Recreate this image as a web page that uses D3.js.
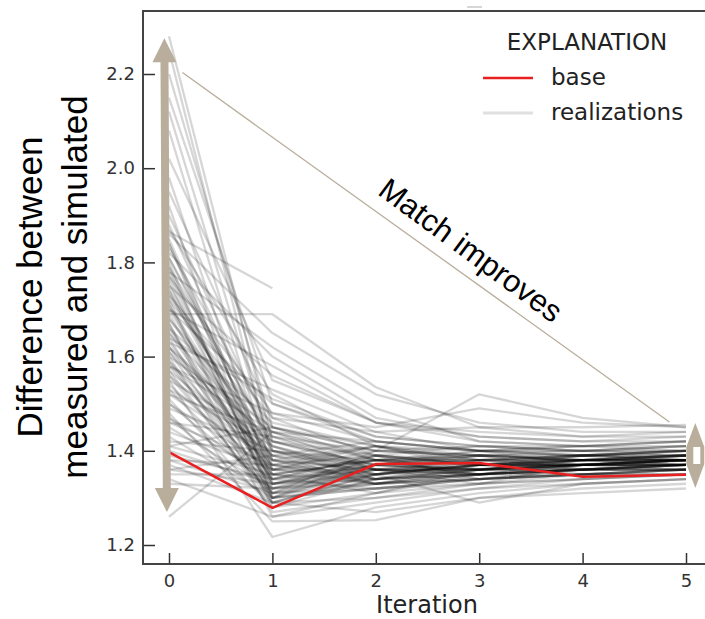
<!DOCTYPE html>
<html>
<head>
<meta charset="utf-8">
<script src="https://cdn.jsdelivr.net/npm/d3@7"></script>
<style>
  body { margin: 0; background: #fff; }
  svg { display: block; }
</style>
</head>
<body>
<script>
// --- data ---
const iterations = [0, 1, 2, 3, 4, 5];
const xTicks = [0, 1, 2, 3, 4, 5];
const yTicks = [1.2, 1.4, 1.6, 1.8, 2.0, 2.2];

const baseValues = [1.397, 1.279, 1.372, 1.374, 1.345, 1.349];

// one row per realization, values at iterations 0..5 (null = not run)
const realizations = [
    [2.28, 1.42, 1.36, 1.38, 1.37, 1.38],
    [2.25, 1.38, 1.34, 1.35, 1.36, 1.36],
    [2.20, 1.45, 1.40, 1.39, 1.38, 1.39],
    [2.15, 1.50, 1.42, 1.40, 1.40, 1.41],
    [2.12, 1.40, 1.37, 1.36, 1.37, 1.37],
    [2.08, 1.36, 1.33, 1.34, 1.35, 1.35],
    [2.02, 1.55, 1.46, 1.42, 1.41, 1.40],
    [1.98, 1.33, 1.35, 1.36, 1.37, 1.38],
    [1.95, 1.47, 1.39, 1.37, 1.38, 1.38],
    [1.92, 1.30, 1.32, 1.34, 1.35, 1.36],
    [1.90, 1.43, 1.38, 1.40, 1.39, 1.40],
    [1.88, 1.40, 1.35, 1.37, 1.36, 1.37],
    [1.87, 1.52, 1.41, 1.38, 1.39, 1.39],
    [1.865, 1.745, null, null, null, null],
    [1.85, 1.35, 1.38, 1.36, 1.37, 1.38],
    [1.84, 1.32, 1.33, 1.35, 1.36, 1.36],
    [1.83, 1.45, 1.40, 1.41, 1.40, 1.40],
    [1.82, 1.60, 1.47, 1.43, 1.42, 1.42],
    [1.81, 1.38, 1.36, 1.35, 1.37, 1.37],
    [1.80, 1.29, 1.34, 1.36, 1.36, 1.37],
    [1.79, 1.42, 1.37, 1.39, 1.38, 1.39],
    [1.78, 1.34, 1.32, 1.34, 1.35, 1.36],
    [1.77, 1.48, 1.42, 1.40, 1.41, 1.41],
    [1.76, 1.31, 1.35, 1.37, 1.38, 1.38],
    [1.75, 1.37, 1.39, 1.38, 1.39, 1.40],
    [1.75, 1.56, 1.46, 1.44, 1.43, 1.43],
    [1.74, 1.33, 1.37, 1.36, 1.37, 1.38],
    [1.73, 1.40, 1.34, 1.35, 1.36, 1.37],
    [1.72, 1.28, 1.31, 1.33, 1.34, 1.35],
    [1.72, 1.44, 1.38, 1.37, 1.38, 1.38],
    [1.71, 1.36, 1.40, 1.39, 1.40, 1.39],
    [1.70, 1.50, 1.43, 1.41, 1.40, 1.41],
    [1.69, 1.69, 1.535, 1.45, 1.43, 1.44],
    [1.69, 1.32, 1.36, 1.35, 1.36, 1.37],
    [1.68, 1.39, 1.35, 1.37, 1.37, 1.38],
    [1.67, 1.30, 1.33, 1.34, 1.35, 1.35],
    [1.66, 1.46, 1.41, 1.39, 1.39, 1.40],
    [1.66, 1.35, 1.38, 1.38, 1.38, 1.38],
    [1.65, 1.41, 1.36, 1.36, 1.37, 1.37],
    [1.64, 1.29, 1.35, 1.37, 1.38, 1.39],
    [1.63, 1.37, 1.34, 1.35, 1.36, 1.36],
    [1.63, 1.53, 1.44, 1.40, 1.41, 1.42],
    [1.62, 1.34, 1.39, 1.41, 1.40, 1.40],
    [1.62, 1.42, 1.37, 1.36, 1.38, 1.38],
    [1.61, 1.31, 1.32, 1.34, 1.35, 1.36],
    [1.61, 1.38, 1.41, 1.38, 1.39, 1.39],
    [1.60, 1.27, 1.30, 1.32, 1.34, 1.35],
    [1.60, 1.45, 1.38, 1.39, 1.39, 1.40],
    [1.59, 1.36, 1.36, 1.37, 1.37, 1.37],
    [1.58, 1.33, 1.34, 1.36, 1.37, 1.38],
    [1.58, 1.48, 1.45, 1.49, 1.46, 1.45],
    [1.57, 1.39, 1.37, 1.35, 1.36, 1.36],
    [1.56, 1.30, 1.36, 1.38, 1.38, 1.39],
    [1.55, 1.217, 1.28, 1.31, 1.33, 1.34],
    [1.55, 1.42, 1.39, 1.37, 1.38, 1.38],
    [1.54, 1.35, 1.33, 1.35, 1.36, 1.37],
    [1.53, 1.31, 1.40, 1.52, 1.47, 1.45],
    [1.52, 1.38, 1.36, 1.36, 1.37, 1.37],
    [1.52, 1.44, 1.42, 1.40, 1.40, 1.41],
    [1.51, 1.28, 1.34, 1.37, 1.37, 1.38],
    [1.50, 1.36, 1.35, 1.29, 1.33, 1.34],
    [1.49, 1.40, 1.38, 1.38, 1.39, 1.39],
    [1.48, 1.25, 1.253, 1.30, 1.32, 1.33],
    [1.47, 1.34, 1.37, 1.36, 1.36, 1.36],
    [1.46, 1.37, 1.33, 1.34, 1.35, 1.35],
    [1.46, 1.43, 1.40, 1.39, 1.38, 1.39],
    [1.45, 1.32, 1.35, 1.37, 1.38, 1.38],
    [1.44, 1.36, 1.38, 1.37, 1.37, 1.38],
    [1.43, 1.30, 1.32, 1.33, 1.35, 1.36],
    [1.42, 1.40, 1.36, 1.36, 1.37, 1.37],
    [1.41, 1.35, 1.34, 1.36, 1.36, 1.37],
    [1.41, 1.45, 1.41, 1.40, 1.39, 1.40],
    [1.40, 1.33, 1.37, 1.38, 1.38, 1.38],
    [1.39, 1.34, 1.36, 1.35, 1.36, 1.36],
    [1.38, 1.31, 1.33, 1.35, 1.36, 1.37],
    [1.38, 1.37, 1.35, 1.37, 1.37, 1.38],
    [1.37, 1.29, 1.30, 1.33, 1.34, 1.35],
    [1.36, 1.33, 1.36, 1.36, 1.37, 1.37],
    [1.35, 1.35, 1.38, 1.39, 1.38, 1.39],
    [1.34, 1.26, 1.29, 1.32, 1.33, 1.34],
    [1.33, 1.32, 1.34, 1.35, 1.35, 1.36],
    [1.26, 1.44, 1.39, 1.37, 1.37, 1.38],
    [1.36, 1.39, 1.42, 1.40, 1.39, 1.40],
    [1.78, 1.62, 1.49, 1.42, 1.41, 1.42],
    [1.70, 1.58, 1.46, 1.43, 1.42, 1.43],
    [1.86, 1.65, 1.52, 1.46, 1.44, 1.44],
    [1.64, 1.51, 1.43, 1.41, 1.41, 1.42],
    [1.57, 1.29, 1.27, 1.30, 1.31, 1.32],
    [1.73, 1.47, 1.44, 1.45, 1.45, 1.455],
    [1.67, 1.26, 1.31, 1.35, 1.37, 1.37],
    [1.84, 1.36, 1.41, 1.37, 1.39, 1.38],
    [1.81, 1.41, 1.35, 1.38, 1.36, 1.37],
    [1.77, 1.33, 1.38, 1.35, 1.38, 1.39],
    [1.74, 1.38, 1.33, 1.36, 1.39, 1.38],
    [1.71, 1.31, 1.37, 1.40, 1.37, 1.38],
    [1.68, 1.43, 1.36, 1.34, 1.36, 1.37],
    [1.65, 1.34, 1.39, 1.37, 1.35, 1.36],
    [1.62, 1.39, 1.33, 1.37, 1.39, 1.38],
    [1.59, 1.30, 1.37, 1.39, 1.36, 1.37],
    [1.56, 1.37, 1.41, 1.36, 1.38, 1.39],
    [1.53, 1.41, 1.34, 1.38, 1.37, 1.36],
    [1.50, 1.32, 1.38, 1.35, 1.37, 1.38],
    [1.47, 1.29, 1.35, 1.39, 1.38, 1.37],
    [1.79, 1.30, 1.39, 1.34, 1.36, 1.38],
    [1.70, 1.35, 1.31, 1.36, 1.38, 1.37],
    [1.58, 1.44, 1.36, 1.33, 1.37, 1.39]
];

// annotation anchors in data units [iteration, value]
const bigArrow = [[-0.045, 2.276], [-0.02, 1.27]];
const smallArrow = [[5.09, 1.459], [5.09, 1.321]];
const trendLine = [[0.13, 2.203], [4.84, 1.461]];

const width = 705;
const height = 619;
const tan = "#b8ae9b";

const xScale = d3.scaleLinear().domain([0, 5]).range([169, 686]);
const yScale = d3.scaleLinear().domain([1.2, 2.2]).range([545, 74]);

const plotLeft = 143, plotTop = 11, plotBottom = 564;

const svg = d3.select("body")
    .append("svg")
    .attr("width", width)
    .attr("height", height);

// realization lines
const line = d3.line()
    .defined((d) => d != null)
    .x((d, i) => xScale(iterations[i]))
    .y((d) => yScale(d));

svg.append("g")
    .selectAll("path")
    .data(realizations)
    .enter()
    .append("path")
    .attr("d", line)
    .attr("fill", "none")
    .attr("stroke", "#000")
    .attr("stroke-opacity", 0.16)
    .attr("stroke-width", 2.3)
    .attr("stroke-linejoin", "round");

svg.append("path")
    .attr("d", line(baseValues))
    .attr("fill", "none")
    .attr("stroke", "#e8201f")
    .attr("stroke-width", 2.5);

// axes, ticks pointing inward
const yAxis = d3.axisLeft(yScale).tickValues(yTicks).tickSize(-12).tickPadding(8)
    .tickFormat(d3.format(".1f"));
const xAxis = d3.axisBottom(xScale).tickValues(xTicks).tickSize(-11).tickPadding(10)
    .tickFormat(d3.format("d"));

const gy = svg.append("g").attr("transform", `translate(${plotLeft},0)`).call(yAxis);
const gx = svg.append("g").attr("transform", `translate(0,${plotBottom})`).call(xAxis);
[gx, gy].forEach((g) => {
    g.select(".domain").remove();
    g.selectAll(".tick line").attr("stroke", "#333").attr("stroke-width", 1.5);
    g.selectAll(".tick text")
        .attr("fill", "#333")
        .style("font-family", "DejaVu Sans")
        .style("font-size", "18px");
});

// spines
svg.append("path")
    .attr("d", `M${width},${plotTop}H${plotLeft}V${plotBottom}H${width}`)
    .attr("fill", "none")
    .attr("stroke", "#444")
    .attr("stroke-width", 2);
svg.append("line")
    .attr("x1", 467).attr("x2", 482).attr("y1", 7).attr("y2", 7)
    .attr("stroke", "#c8c8c8").attr("stroke-width", 1.5);

// axis titles
svg.append("text")
    .attr("x", 427).attr("y", 613)
    .attr("text-anchor", "middle")
    .style("font-family", "DejaVu Sans")
    .style("font-size", "24px")
    .attr("fill", "#222")
    .text("Iteration");

const ylab = svg.append("text")
    .attr("transform", "translate(0,287) rotate(-90)")
    .attr("text-anchor", "middle")
    .style("font-family", "Liberation Sans, Arial")
    .style("font-size", "35px")
    .attr("fill", "#000");
ylab.append("tspan").attr("x", 0).attr("y", 42).text("Difference between");
ylab.append("tspan").attr("x", 0).attr("y", 87).text("measured and simulated");

// legend
const legend = svg.append("g").style("font-family", "DejaVu Sans").style("font-size", "23px");
legend.append("text").attr("x", 587).attr("y", 50).attr("text-anchor", "middle")
    .attr("fill", "#222").text("EXPLANATION");
legend.append("line").attr("x1", 483).attr("x2", 533).attr("y1", 78).attr("y2", 78)
    .attr("stroke", "#e8201f").attr("stroke-width", 2.5);
legend.append("text").attr("x", 551).attr("y", 85).attr("fill", "#222").text("base");
legend.append("line").attr("x1", 483).attr("x2", 533).attr("y1", 113).attr("y2", 113)
    .attr("stroke", "#e0e0e0").attr("stroke-width", 3);
legend.append("text").attr("x", 551).attr("y", 120).attr("fill", "#222").text("realizations");

// annotations
function arrowPoints(p1, p2, sw, hw, hl) {
    const dx = p2[0] - p1[0], dy = p2[1] - p1[1];
    const len = Math.hypot(dx, dy);
    const ux = dx / len, uy = dy / len, nx = -uy, ny = ux;
    const b1 = [p1[0] + ux * hl, p1[1] + uy * hl];
    const b2 = [p2[0] - ux * hl, p2[1] - uy * hl];
    const off = (p, w) => [p[0] + nx * w / 2, p[1] + ny * w / 2];
    return [p1, off(b1, hw), off(b1, sw), off(b2, sw), off(b2, hw), p2,
        off(b2, -hw), off(b2, -sw), off(b1, -sw), off(b1, -hw)];
}
const toPx = (d) => [xScale(d[0]), yScale(d[1])];

svg.append("line")
    .attr("x1", toPx(trendLine[0])[0]).attr("y1", toPx(trendLine[0])[1])
    .attr("x2", toPx(trendLine[1])[0]).attr("y2", toPx(trendLine[1])[1])
    .attr("stroke", tan).attr("stroke-width", 1.3);

svg.append("polygon")
    .attr("points", arrowPoints(toPx(bigArrow[0]), toPx(bigArrow[1]), 8, 24, 24).join(" "))
    .attr("fill", tan);

const sa0 = toPx(smallArrow[0]), sa1 = toPx(smallArrow[1]);
svg.append("polygon")
    .attr("points", arrowPoints(sa0, sa1, 18, 18, 24).join(" "))
    .attr("fill", tan);
svg.append("rect")
    .attr("x", sa0[0] - 2).attr("y", sa0[1] + 24)
    .attr("width", 7).attr("height", sa1[1] - sa0[1] - 48)
    .attr("fill", "#fff");

const mx = 471, my = 250;
svg.append("text")
    .attr("transform", `translate(${mx},${my}) rotate(36.5)`)
    .attr("text-anchor", "middle")
    .attr("dy", "0.35em")
    .style("font-family", "Liberation Sans, Arial")
    .style("font-size", "31px")
    .attr("fill", "#000")
    .text("Match improves");
</script>
</body>
</html>
